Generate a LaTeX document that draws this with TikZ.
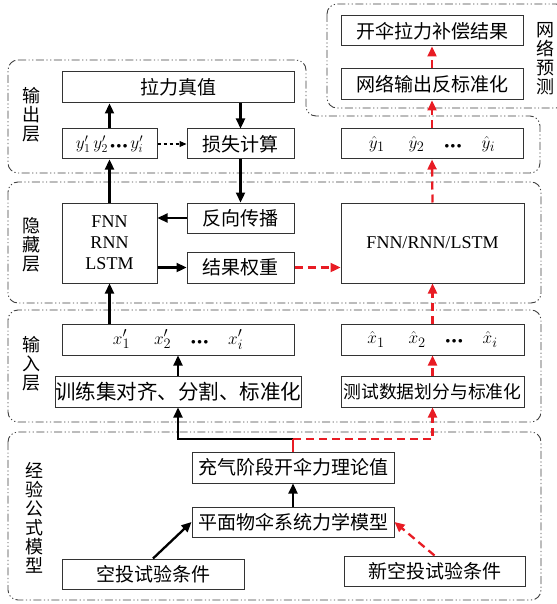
\documentclass[tikz,border=0pt]{standalone}
\usepackage{fontspec}
\setmainfont{Liberation Serif}
\newfontfamily\cjk{Noto Sans CJK SC}
\usetikzlibrary{arrows.meta}
\definecolor{myred}{RGB}{232,28,36}
\newcommand{\bdots}{$\scriptscriptstyle\bullet\,\bullet\,\bullet$}
\begin{document}
\begin{tikzpicture}[x=1pt,y=-1pt,
  box/.style={draw=black!80, line width=1pt, fill=white, inner sep=0pt, align=center,
    font=\cjk\fontsize{19}{22}\selectfont},
  mbox/.style={box, font=\fontsize{19}{22}\selectfont},
  ebox/.style={box, font=\fontsize{18}{21}\selectfont},
  region/.style={draw=black!75, line width=0.9pt, rounded corners=10pt,
    dash pattern=on 8pt off 2.5pt on 1.2pt off 2.5pt on 1.2pt off 2.5pt},
  arr/.style={line width=2.3pt, line join=miter, -{Triangle[length=10pt,width=9pt]}},
  rline/.style={myred, line width=2.3pt},
  rarr/.style={myred, line width=2.3pt, dash pattern=on 8pt off 5pt, -{Triangle[length=10pt,width=9pt]}},
  vlabel/.style={font=\cjk\fontsize{18}{19}\selectfont, align=center, inner sep=0pt}]
\useasboundingbox (0,0) rectangle (556,604);

% regions
\draw[region] (327,4) rectangle (566,108);
\draw[region] (8,60) -- (306,60) -- (306,116) -- (540,116) -- (540,173) -- (8,173) -- cycle;
\draw[region] (8,182) rectangle (541,303);
\draw[region] (8,310) rectangle (541,422);
\draw[region] (8,432) rectangle (541,600);

% region labels
\node[vlabel] (lpred) at (545,59) {网\\络\\预\\测};
\node[vlabel] (lout) at (31,115) {输\\出\\层};
\node[vlabel] (lhid) at (31,245) {隐\\藏\\层};
\node[vlabel] (lin) at (31,364) {输\\入\\层};
\node[vlabel] (lemp) at (34,518) {经\\验\\公\\式\\模\\型};

% boxes
\node[box, minimum width=182, minimum height=30] (kaisan) at (432,31) {开伞拉力补偿结果};
\node[box, minimum width=182, minimum height=31] (fanbz) at (432,84.5) {网络输出反标准化};
\node[box, minimum width=232, minimum height=31] (lali) at (178,87.5) {拉力真值};
\node[mbox, minimum width=95, minimum height=30, font=\fontsize{18}{21}\selectfont] (ybox) at (109.5,144) {$y'_1\,y'_2$\hspace{2.5pt}\bdots\hspace{3pt}$y'_i$};
\node[box, minimum width=107, minimum height=30] (loss) at (240.5,144) {损失计算};
\node[mbox, minimum width=182, minimum height=30] (yhat) at (432,144) {$\hat{y}_1$\hspace{24pt}$\hat{y}_2$\hspace{20pt}\bdots\hspace{20pt}$\hat{y}_i$};
\node[ebox, minimum width=95, minimum height=80] (fnn) at (109.5,243) {FNN\\RNN\\LSTM};
\node[box, minimum width=107, minimum height=30] (bp) at (240.5,218) {反向传播};
\node[box, minimum width=107, minimum height=31] (wt) at (240.5,267.5) {结果权重};
\node[ebox, minimum width=183, minimum height=80] (fnn2) at (432.5,243) {FNN/RNN/LSTM};
\node[mbox, minimum width=232, minimum height=31] (xbox) at (178,339.5) {$x'_1$\hspace{24pt}$x'_2$\hspace{20pt}\bdots\hspace{20pt}$x'_i$};
\node[mbox, minimum width=183, minimum height=31] (xhat) at (432.5,339.5) {$\hat{x}_1$\hspace{24pt}$\hat{x}_2$\hspace{20pt}\bdots\hspace{20pt}$\hat{x}_i$};
\node[box, minimum width=232, minimum height=31, font=\cjk\fontsize{20.5}{22}\selectfont] (train) at (178,391.5) {训练集对齐、分割、标准化};
\node[box, minimum width=183, minimum height=31, font=\cjk\fontsize{17.8}{22}\selectfont] (test) at (432.5,391.5) {测试数据划分与标准化};
\node[box, minimum width=202, minimum height=31] (theory) at (293,467.5) {充气阶段开伞力理论值};
\node[box, minimum width=202, minimum height=30] (model) at (293,522) {平面物伞系统力学模型};
\node[box, minimum width=182, minimum height=30] (cond) at (153,574) {空投试验条件};
\node[box, minimum width=181, minimum height=30] (newcond) at (434.5,571) {新空投试验条件};

% junctions
\coordinate (j1) at (293,439);
\coordinate (j2) at (178,439);
\coordinate (j3) at (432.5,439);

% black arrows
\draw[arr] (ybox.north) -- (lali.south -| ybox.north);
\draw[arr] (fnn.north) -- (ybox.south);
\draw[arr] (xbox.north -| fnn.south) -- (fnn.south);
\draw[arr] (lali.south -| loss.north) -- (loss.north);
\draw[arr] (loss.south) -- (bp.north);
\draw[arr] (bp.west) -- (bp.west -| fnn.east);
\draw[arr] (wt.west -| fnn.east) -- (wt.west);
\draw[line width=1.1pt, dashed, -{Triangle[length=7pt,width=6pt]}] (ybox.east) -- (loss.west);
\draw[arr] (train.north) -- (xbox.south);
\draw[arr] (theory.north) -- (j1) -- (j2) -- (train.south);
\draw[arr] (model.north) -- (theory.south);
\draw[arr] (cond.north) -- (model.west);

% red arrows
\draw[rline] (theory.north) -- (j1);
\draw[rarr] (j1) -- (j3) -- (test.south);
\draw[rarr] (test.north) -- (xhat.south);
\draw[rarr] (xhat.north) -- (fnn2.south);
\draw[rarr] (fnn2.north) -- (yhat.south);
\draw[rarr] (yhat.north) -- (fanbz.south);
\draw[rarr] (fanbz.north) -- (kaisan.south);
\draw[rarr] (wt.east) -- (wt.east -| fnn2.west);
\draw[rarr] (newcond.north) -- (model.east);
\end{tikzpicture}
\end{document}
